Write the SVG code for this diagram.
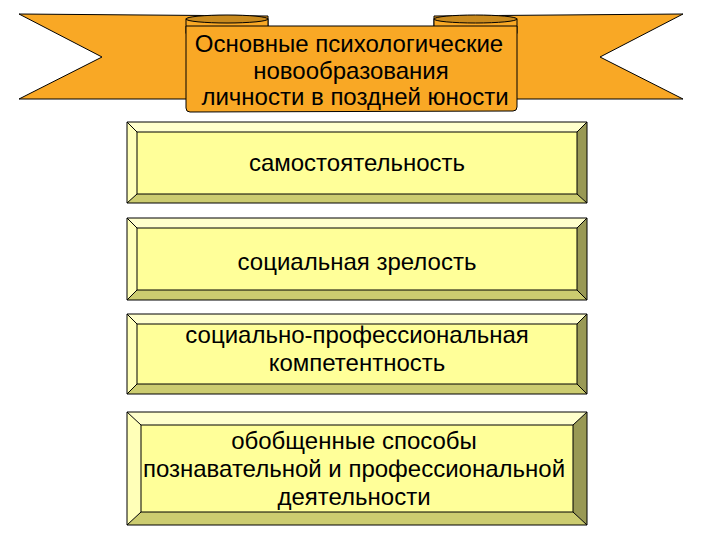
<svg xmlns="http://www.w3.org/2000/svg" width="720" height="540" viewBox="0 0 720 540">
<style>
.rib{fill:#F9A825;stroke:#000;stroke-width:1}
.shade{fill:#C98A1E;stroke:#000;stroke-width:1}
.t{font-family:"Liberation Sans",Arial,sans-serif;font-size:24px;fill:#000;text-anchor:middle}
.face{fill:#FFFF99;stroke:#000;stroke-width:1}
.bt{fill:#FFFFCC}
.bl{fill:#FFFFB8}
.bb{fill:#CCCC70}
.br{fill:#999955}
.edge{fill:none;stroke:#000;stroke-width:1}
</style>
<rect width="720" height="540" fill="#fff"/>
<g id="banner">
  <polygon class="rib" points="19,14 268,16 268,99 19,99 102,57"/>
  <polygon class="rib" points="683,14 434,16 434,99 683,99 600,57"/>
  <rect class="rib" x="186" y="19" width="82" height="14"/>
  <rect class="rib" x="434" y="19" width="83" height="14"/>
  <ellipse class="shade" cx="227" cy="19" rx="41" ry="4"/>
  <ellipse class="shade" cx="475.5" cy="19" rx="41.5" ry="4"/>
  <path class="rib" d="M186,26 L517,26 L517,107 Q517,111 513,111 L190,112 Q186,112 186,108 Z"/>
  <text class="t" x="349" y="52">Основные психологические</text>
  <text class="t" x="351" y="79">новообразования</text>
  <text class="t" x="355" y="105">личности в поздней юности</text>
</g>
<g id="box1">
  <polygon class="bt" points="127,122 587,122 577,132 137,132"/>
  <polygon class="bl" points="127,122 137,132 137,194 127,203"/>
  <polygon class="bb" points="127,203 137,194 577,194 587,203"/>
  <polygon class="br" points="587,122 587,203 577,194 577,132"/>
  <rect class="face" x="137" y="132" width="440" height="62"/>
  <path class="edge" d="M127,122 H587 V203 H127 Z M127,122 L137,132 M587,122 L577,132 M587,203 L577,194 M127,203 L137,194"/>
  <text class="t" x="357" y="171">самостоятельность</text>
</g>
<g id="box2">
  <polygon class="bt" points="127,218 587,218 577,228 137,228"/>
  <polygon class="bl" points="127,218 137,228 137,290 127,300"/>
  <polygon class="bb" points="127,300 137,290 577,290 587,300"/>
  <polygon class="br" points="587,218 587,300 577,290 577,228"/>
  <rect class="face" x="137" y="228" width="440" height="62"/>
  <path class="edge" d="M127,218 H587 V300 H127 Z M127,218 L137,228 M587,218 L577,228 M587,300 L577,290 M127,300 L137,290"/>
  <text class="t" x="357" y="270">социальная зрелость</text>
</g>
<g id="box3">
  <polygon class="bt" points="127,314 587,314 577,324 137,324"/>
  <polygon class="bl" points="127,314 137,324 137,384 127,394"/>
  <polygon class="bb" points="127,394 137,384 577,384 587,394"/>
  <polygon class="br" points="587,314 587,394 577,384 577,324"/>
  <rect class="face" x="137" y="324" width="440" height="60"/>
  <path class="edge" d="M127,314 H587 V394 H127 Z M127,314 L137,324 M587,314 L577,324 M587,394 L577,384 M127,394 L137,384"/>
  <text class="t" x="357" y="343">социально-профессиональная</text>
  <text class="t" x="357" y="371">компетентность</text>
</g>
<g id="box4">
  <polygon class="bt" points="127,412 587,412 573,425 141,425"/>
  <polygon class="bl" points="127,412 141,425 141,512 127,525"/>
  <polygon class="bb" points="127,525 141,512 573,512 587,525"/>
  <polygon class="br" points="587,412 587,525 573,512 573,425"/>
  <rect class="face" x="141" y="425" width="432" height="87"/>
  <path class="edge" d="M127,412 H587 V525 H127 Z M127,412 L141,425 M587,412 L573,425 M587,525 L573,512 M127,525 L141,512"/>
  <text class="t" x="354" y="449">обобщенные способы</text>
  <text class="t" x="354" y="477">познавательной и профессиональной</text>
  <text class="t" x="354" y="505">деятельности</text>
</g>
</svg>
